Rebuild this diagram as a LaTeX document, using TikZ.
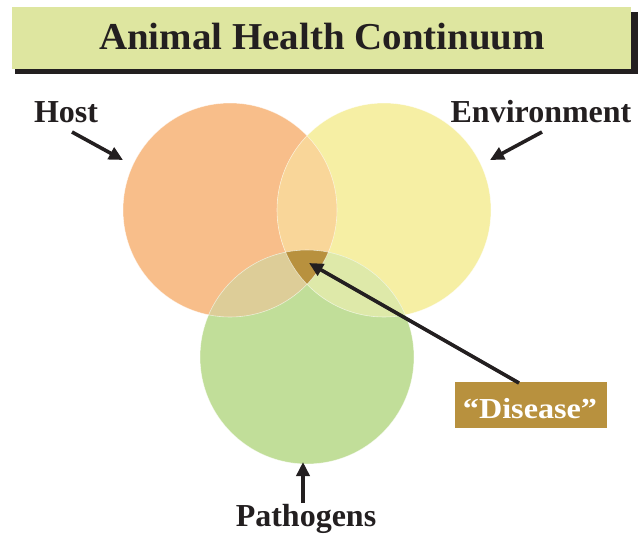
\documentclass[tikz,border=0pt]{standalone}
\usepackage{fontspec}
\setmainfont{Liberation Serif}
\usetikzlibrary{arrows.meta}
\definecolor{titlebg}{HTML}{DEE6A0}
\definecolor{shadowc}{HTML}{231F20}
\definecolor{hostc}{HTML}{F8BE8A}
\definecolor{envc}{HTML}{F6EFA4}
\definecolor{pathc}{HTML}{C1DE99}
\definecolor{hec}{HTML}{F9D699}
\definecolor{hpc}{HTML}{DDCD98}
\definecolor{epc}{HTML}{DEE9A9}
\definecolor{diseasec}{HTML}{B8913E}
\definecolor{textc}{HTML}{231F20}
\tikzset{
  lbl/.style={font=\fontsize{32}{38}\selectfont\bfseries, text=textc, inner sep=0pt, anchor=base},
  pointer/.style={-{Triangle[length=14pt,width=13pt]}, line width=3.6pt, draw=textc},
  ring/.style={draw=white, draw opacity=0.6, line width=0.6pt}
}
\begin{document}
\begin{tikzpicture}[x=1pt,y=-1pt]
\useasboundingbox (0,0) rectangle (642,535);
% title
\fill[shadowc] (15,12) rectangle (638,74);
\node[fill=titlebg, minimum width=619pt, minimum height=62pt, anchor=north west, inner sep=0pt] (titlebox) at (12,7) {};
\node[lbl, font=\fontsize{38}{44}\selectfont\bfseries, xscale=1.025] (title) at (322,50) {Animal Health Continuum};
% circles
\def\Host{(230,210) circle[radius=107]}
\def\Env{(384,210) circle[radius=107]}
\def\Path{(307,357) circle[radius=107]}
\fill[hostc] \Host;
\fill[envc] \Env;
\fill[pathc] \Path;
\begin{scope}\clip \Host; \fill[hec] \Env; \end{scope}
\begin{scope}\clip \Host; \fill[hpc] \Path; \end{scope}
\begin{scope}\clip \Env; \fill[epc] \Path; \end{scope}
\begin{scope}\clip \Host; \clip \Env; \fill[diseasec] \Path; \end{scope}
\draw[ring] \Host; \draw[ring] \Env; \draw[ring] \Path;
% labels
\node[lbl] (host) at (66,122) {Host};
\node[lbl] (env) at (541,122) {Environment};
\node[lbl] (path) at (306,526) {Pathogens};
\node[fill=diseasec, minimum width=152pt, minimum height=46pt, inner sep=0pt] (disease) at (531,405) {};
\node[text=white, font=\fontsize{29}{34}\selectfont\bfseries, xscale=1.11, inner sep=0pt, anchor=base] (distext) at (530,418) {“Disease”};
% arrow targets
\coordinate (hosttip) at (123,160);
\coordinate (envtip) at (490,160);
\coordinate (pathtip) at (303,462);
\coordinate (distip) at (309,263);
\coordinate (hoststart) at (72,132);
\coordinate (envstart) at (542,132);
\coordinate (pathstart) at (303,503);
\coordinate (disstart) at (519,383);
\draw[pointer] (hoststart) -- (hosttip);
\draw[pointer] (envstart) -- (envtip);
\draw[pointer] (pathstart) -- (pathtip);
\draw[pointer] (disstart) -- (distip);
\end{tikzpicture}
\end{document}
